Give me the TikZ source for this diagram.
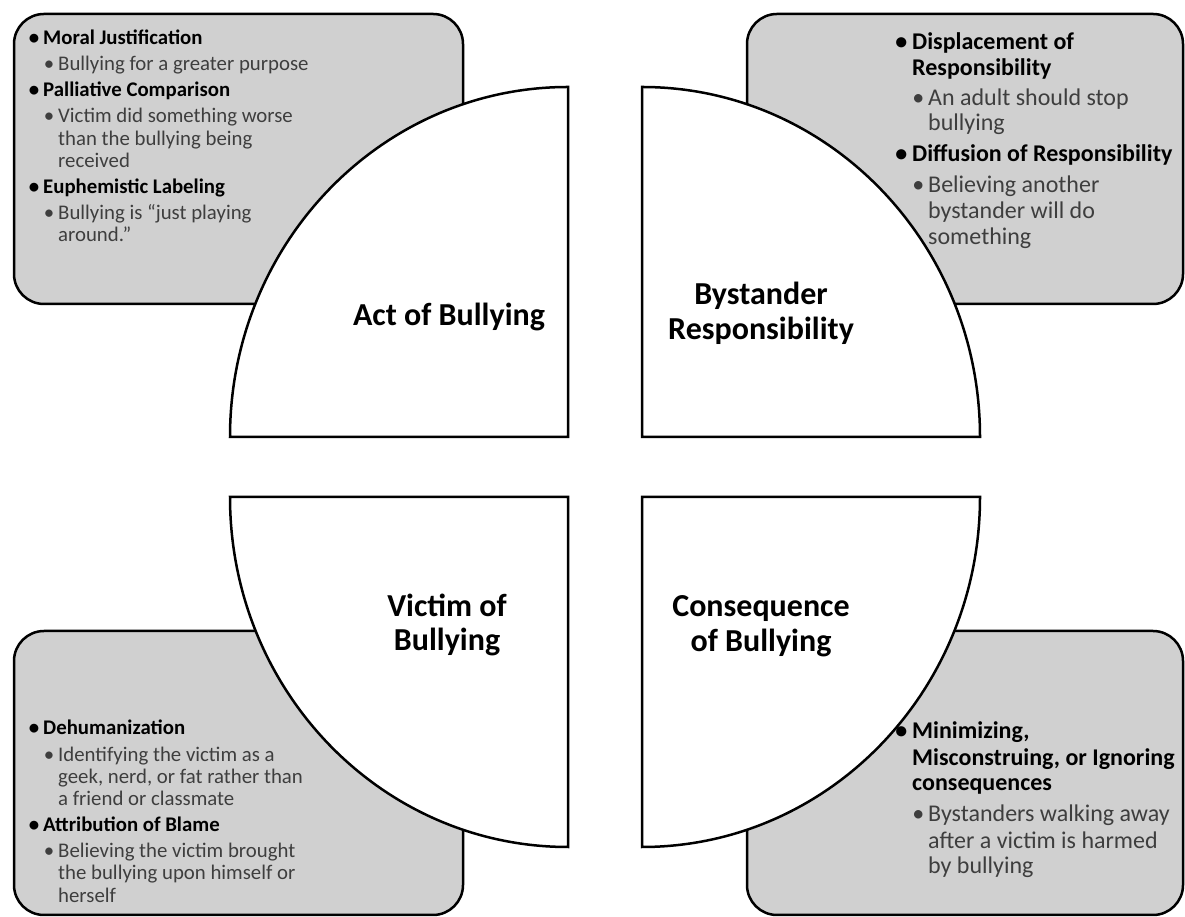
\documentclass[tikz,border=0pt]{standalone}
\usepackage{fontspec}
\setmainfont{Carlito}
\definecolor{boxgray}{RGB}{208,208,208}
\definecolor{subtext}{RGB}{62,62,62}
\newcommand\blt[1]{\llap{\textbullet\hspace{#1}}}
\tikzset{
  panel/.style={draw=black, line width=2.5pt, fill=boxgray, rounded corners=30pt},
  quarter/.style={draw=black, line width=2.5pt, fill=white},
  hdA/.style={anchor=base west, inner sep=0pt, text=black, font=\bfseries\fontsize{20.8}{22}\selectfont},
  sbA/.style={anchor=base west, inner sep=0pt, text=subtext, font=\fontsize{20.8}{22}\selectfont},
  hdB/.style={anchor=base west, inner sep=0pt, text=black, font=\bfseries\fontsize{24}{26}\selectfont},
  sbB/.style={anchor=base west, inner sep=0pt, text=subtext, font=\fontsize{24}{26}\selectfont},
  lbl/.style={anchor=base, inner sep=0pt, text=black, font=\bfseries\fontsize{32}{35}\selectfont}
}
\begin{document}
\begin{tikzpicture}[x=1pt,y=1pt]
\useasboundingbox (0,0) rectangle (1185,917);
% gray panels
\draw[panel] (14,613) rectangle (463,903);
\draw[panel] (747,613) rectangle (1183,903);
\draw[panel] (14,2) rectangle (463,286);
\draw[panel] (747,2) rectangle (1183,286);
% quarter shapes
\draw[quarter] (568,480) -- (230,480) arc[start angle=180,end angle=90,x radius=338pt,y radius=350pt] -- cycle;
\draw[quarter] (642,480) -- (642,830) arc[start angle=90,end angle=0,x radius=338pt,y radius=350pt] -- cycle;
\draw[quarter] (568,420) -- (230,420) arc[start angle=180,end angle=270,x radius=338pt,y radius=350pt] -- cycle;
\draw[quarter] (642,420) -- (642,70) arc[start angle=270,end angle=360,x radius=338pt,y radius=350pt] -- cycle;
% quarter labels
\node[lbl] (act) at (449,591) {Act of Bullying};
\node[lbl] (bys1) at (761,612) {Bystander};
\node[lbl] (bys2) at (761,577) {Responsibility};
\node[lbl] (vic1) at (447,300) {Victim of};
\node[lbl] (vic2) at (447,266) {Bullying};
\node[lbl] (con1) at (761,300) {Consequence};
\node[lbl] (con2) at (761,265) {of Bullying};
% top-left text
\node[hdA] (tl1) at (43,872) {\blt{4pt}Moral Justification};
\node[sbA] (tl2) at (58,846) {\blt{4pt}Bullying for a greater purpose};
\node[hdA] (tl3) at (43,820) {\blt{4pt}Palliative Comparison};
\node[sbA] (tl4) at (58,794) {\blt{4pt}Victim did something worse};
\node[sbA] (tl5) at (58,771) {than the bullying being};
\node[sbA] (tl6) at (58,749) {received};
\node[hdA] (tl7) at (43,723) {\blt{4pt}Euphemistic Labeling};
\node[sbA] (tl8) at (58,697) {\blt{4pt}Bullying is “just playing};
\node[sbA] (tl9) at (58,675) {around.”};
% bottom-left text
\node[hdA] (bl1) at (43,182) {\blt{4pt}Dehumanization};
\node[sbA] (bl2) at (58,155) {\blt{4pt}Identifying the victim as a};
\node[sbA] (bl3) at (58,133) {geek, nerd, or fat rather than};
\node[sbA] (bl4) at (58,111) {a friend or classmate};
\node[hdA] (bl5) at (43,85) {\blt{4pt}Attribution of Blame};
\node[sbA] (bl6) at (58,59) {\blt{4pt}Believing the victim brought};
\node[sbA] (bl7) at (58,37) {the bullying upon himself or};
\node[sbA] (bl8) at (58,14) {herself};
% top-right text
\node[hdB] (tr1) at (912,867) {\blt{5pt}Displacement of};
\node[hdB] (tr2) at (912,841) {Responsibility};
\node[sbB] (tr3) at (928,811) {\blt{4pt}An adult should stop};
\node[sbB] (tr4) at (928,786) {bullying};
\node[hdB] (tr5) at (912,755) {\blt{5pt}Diffusion of Responsibility};
\node[sbB] (tr6) at (928,724) {\blt{4pt}Believing another};
\node[sbB] (tr7) at (928,698) {bystander will do};
\node[sbB] (tr8) at (928,672) {something};
% bottom-right text
\node[hdB] (br1) at (912,178) {\blt{5pt}Minimizing,};
\node[hdB] (br2) at (912,151) {Misconstruing, or Ignoring};
\node[hdB] (br3) at (912,126) {consequences};
\node[sbB] (br4) at (928,95) {\blt{4pt}Bystanders walking away};
\node[sbB] (br5) at (928,68) {after a victim is harmed};
\node[sbB] (br6) at (928,43) {by bullying};
\end{tikzpicture}
\end{document}
